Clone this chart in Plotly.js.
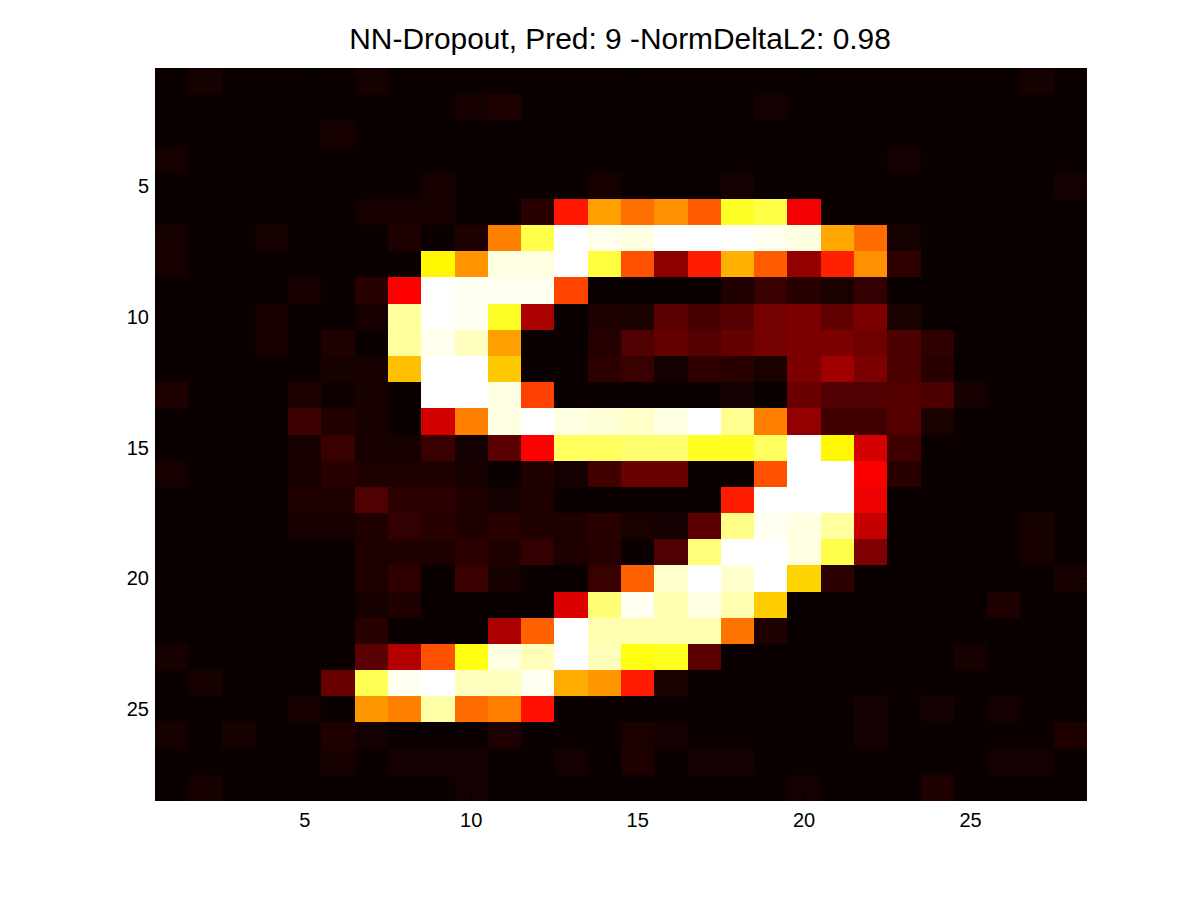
<!DOCTYPE html>
<html>
<head>
<meta charset="utf-8">
<script src="https://cdn.plot.ly/plotly-3.0.1.min.js"></script>
<style>html,body{margin:0;padding:0;background:#fff}</style>
</head>
<body>
<div id="chart" style="width:1200px;height:900px"></div>
<script>
const chartTitle = "NN-Dropout, Pred: 9 -NormDeltaL2: 0.98";
const tickValues = [5, 10, 15, 20, 25];
const tickLabels = ["5", "10", "15", "20", "25"];
const columns = [1,2,3,4,5,6,7,8,9,10,11,12,13,14,15,16,17,18,19,20,21,22,23,24,25,26,27,28];
const rowsIdx = [1,2,3,4,5,6,7,8,9,10,11,12,13,14,15,16,17,18,19,20,21,22,23,24,25,26,27,28];
const pixels = [
/* 1*/[0,2,0,0,0,0,2,0,0,0,0,0,0,0,0,0,0,0,0,0,0,0,0,0,0,0,2,0],
/* 2*/[0,0,0,0,0,0,0,0,0,2,3,0,0,0,0,0,0,0,1.5,0,0,0,0,0,0,0,0,0],
/* 3*/[0,0,0,0,0,2,0,0,0,0,0,0,0,0,0,0,0,0,0,0,0,0,0,0,0,0,0,0],
/* 4*/[2,0,0,0,0,0,0,0,0,0,0,0,0,0,0,0,0,0,0,0,0,0,1.5,0,0,0,0,0],
/* 5*/[0,0,0,0,0,0,0,0,2,0,0,0,0,2,0,0,0,1.5,0,0,0,0,0,0,0,0,0,1.5],
/* 6*/[0,0,0,0,0,0,2,2,2,0,0,4.5,40,60.4,53.2,58,50.3,78.6,81.8,35,0,0,0,0,0,0,0,0],
/* 7*/[2,0,0,2,0,0,0,3,0,3,55.6,82,100,98,97,100,100,100,98.5,97,61.6,52.6,2,0,0,0,0,0],
/* 8*/[2,0,0,0,0,0,0,0,73.5,58.6,97,97,100,81,48.5,19.5,40.7,62.8,50.3,20.5,41.3,58,5.5,0,0,0,0,0],
/* 9*/[0,0,0,0,2,0,4.5,36.5,100,98.5,98.5,98.5,46.7,0,0,0,0,3.5,7,4.5,2.5,6,0,0,0,0,0,0],
/*10*/[0,0,0,2,0,0,2,90,100,98.5,78.6,24,0,3,2.5,12,9,11,16,17,13,17,2.5,0,0,0,0,0],
/*11*/[0,0,0,2,0,3,0,90,98,93.7,60.4,0,0,4,10.5,13.5,11,13.5,16,17,17,15,10,5.5,0,0,0,0],
/*12*/[0,0,0,0,0,2,2,65.2,100,100,66.6,0,0,5,7,1.5,5.5,4.5,2.5,17,22.5,17,10,4.5,0,0,0,0],
/*13*/[3,0,0,0,3,0.5,2,0,100,100,97,46.1,0,0,0,0,0,1.5,0,14.5,10.5,10.5,11,10,2,0,0,0],
/*14*/[0,0,0,0,7.5,3.5,2,0,30,55.6,97,100,97,96,94.5,97,100,89,55.6,20.5,8,8,11,2.5,0,0,0,0],
/*15*/[0,0,0,0,2,7,2,2,7,1.5,12,36.5,84,84,85.5,85.5,78,78,84,100,73.5,30,8,0,0,0,0,0],
/*16*/[2,0,0,0,2,4.5,3,3,3,2,0,3,1.5,8,14.5,14.5,0,0,48.5,100,100,36,4.5,0,0,0,0,0],
/*17*/[0,0,0,0,3,3,10.5,5,5,3,1.5,3,0,0,0,0,0,40.7,100,100,100,34,0,0,0,0,0,0],
/*18*/[0,0,0,0,2,2,3,6,4.5,3,4.5,3,3,4.5,2.5,1.5,12,88,98.5,97,90.5,28,0,0,0,0,2,0],
/*19*/[0,0,0,0,0,0,3,3,3,5,3,6,3,4,0,10.5,87,100,100,97,82,17.5,0,0,0,0,2,0],
/*20*/[0,0,0,0,0,0,3,5.5,0,7,2,0,0,7,50.8,95,100,95,100,68,5,0,0,0,0,0,0,2],
/*21*/[0,0,0,0,0,0,2,3,0,0,0,0,31.5,86.5,98.5,92,97,92,67,0,0,0,0,0,0,3,0,0],
/*22*/[0,0,0,0,0,0,4.5,0,0,0,24,50.8,100,92,92,92,92,53.8,3,0,0,0,0,0,0,0,0,0],
/*23*/[2,0,0,0,0,0,12,25,48.5,76,97,93,100,93,76,77.7,12,0,0,0,0,0,0,0,2,0,0,0],
/*24*/[0,2,0,0,0,14,83,98.5,100,93.7,93.7,98.5,62.2,59.2,40.7,2.5,0,0,0,0,0,0,0,0,0,0,0,0],
/*25*/[0,0,0,0,2,0,59.2,55.6,91,52.6,55.6,38.9,0,0,0,0,0,0,0,0,0,1.5,0,1.5,0,1.5,0,0],
/*26*/[2,0,2,0,0,3,1.5,0,0,0,3,0,0,0,2.5,1.5,0,0,0,0,0,1.5,0,0,0,0,0,3],
/*27*/[0,0,0,0,0,2,0,1.5,1.5,1.5,0,0,1.5,0,3,0,1.5,1.5,0,0,0,0,0,0,0,1.5,1.5,0],
/*28*/[0,2,0,0,0,0,0,0,0,1.5,0,0,0,0,0,0,0,0,0,1.5,0,0,0,3,0,0,0,0]
];
const hotScale = [[0,"rgb(10,0,0)"],[0.365,"rgb(255,0,0)"],[0.746,"rgb(255,255,0)"],[1,"rgb(255,255,255)"]];

const axisFont = {family:"'Liberation Sans', Arial, sans-serif", size:20, color:"#000"};
const axisBase = {
  tickmode:"array", tickvals:tickValues, ticktext:tickLabels,
  ticks:"inside", ticklen:9, tickcolor:"#000", tickwidth:1,
  showline:false, mirror:"ticks",
  showgrid:false, zeroline:false, tickfont:axisFont
};
Plotly.newPlot("chart",[{
  type:"heatmap", x:columns, y:rowsIdx, z:pixels,
  zmin:0, zmax:100, colorscale:hotScale, showscale:false, zsmooth:false,
  xgap:0, ygap:0, hoverinfo:"skip"
}],{
  width:1200, height:900,
  paper_bgcolor:"#fff", plot_bgcolor:"#000",
  margin:{l:155,r:113,t:68,b:99},
  title:{text:chartTitle, font:{family:"'Liberation Sans', Arial, sans-serif", size:29.9, color:"#000"},
         x:0.5167, xanchor:"center", y:0.957, yanchor:"middle"},
  xaxis:Object.assign({range:[0.5,28.5], ticklabelstandoff:5},axisBase),
  yaxis:Object.assign({range:[28.5,0.5], ticklabelstandoff:5},axisBase)
},{displayModeBar:false,staticPlot:true});
</script>
</body>
</html>
